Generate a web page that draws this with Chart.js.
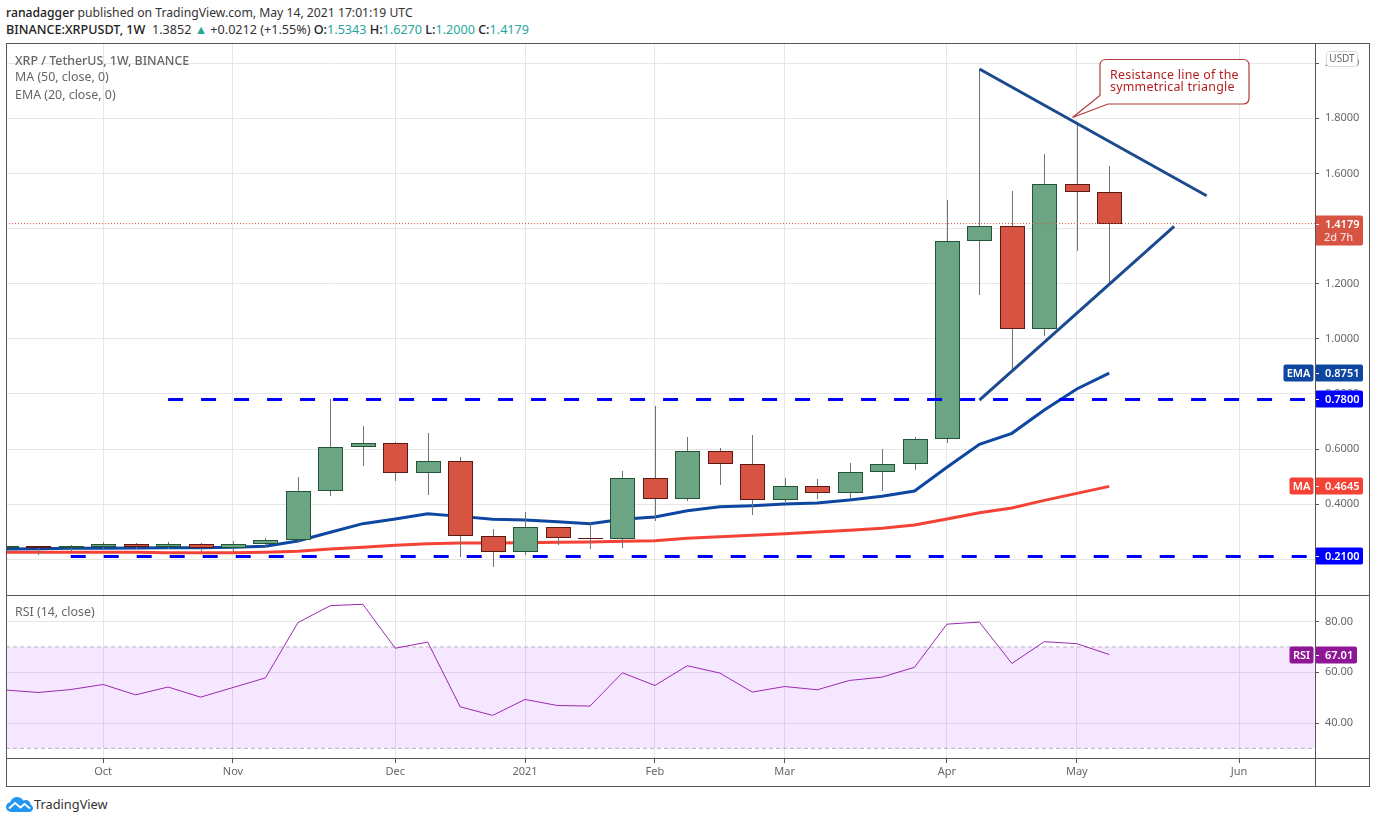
<!DOCTYPE html>
<html>
<head>
<meta charset="utf-8">
<title>XRP / TetherUS</title>
<script src="https://cdn.jsdelivr.net/npm/chart.js@4/dist/chart.umd.min.js"></script>
<style>
  html, body { margin: 0; padding: 0; background: #fff; overflow: hidden; }
  body { width: 1376px; height: 823px; position: relative; font-family: "Noto Sans", sans-serif; }
  canvas { position: absolute; left: 0; }
  #main-chart { top: 43px; }
  #rsi-chart { top: 595px; }
  .txt { position: absolute; white-space: nowrap; line-height: 16px; }
  .head { font-size: 12.6px; color: #333; left: 6px; }
  .head b { font-weight: 500; color: #222; }
  .teal { color: #26a69a; }
  .leg { font-size: 12.4px; color: #666; left: 15px; }
  .frame { position: absolute; background: #555; }
  #callout { position: absolute; left: 1060px; top: 50px; }
  .note { font-size: 12.4px; color: #b71c1c; left: 1110px; line-height: 12px; letter-spacing: 0.25px; }
</style>
</head>
<body>
<div class="txt head" style="top:5px;font-size:12.2px"><b>ranadagger</b> published on TradingView.com, May 14, 2021 17:01:19 UTC</div>
<div class="txt head" style="top:22px"><b>BINANCE:XRPUSDT, 1W</b>&nbsp; 1.3852 <span class="teal">▲</span> +0.0212 (+1.55%) <b>O:</b><span class="teal">1.5343</span> <b>H:</b><span class="teal">1.6270</span> <b>L:</b><span class="teal">1.2000</span> <b>C:</b><span class="teal">1.4179</span></div>

<canvas id="main-chart" width="1376" height="552" style="width:1376px;height:552px"></canvas>
<canvas id="rsi-chart" width="1376" height="191" style="width:1376px;height:191px"></canvas>

<!-- pane borders -->
<div class="frame" style="left:6px;top:43px;width:1363px;height:1px"></div>
<div class="frame" style="left:6px;top:595px;width:1363px;height:1px"></div>
<div class="frame" style="left:6px;top:758px;width:1363px;height:1px"></div>
<div class="frame" style="left:6px;top:786px;width:1363px;height:1px"></div>
<div class="frame" style="left:6px;top:43px;width:1px;height:744px"></div>
<div class="frame" style="left:1315px;top:43px;width:1px;height:744px"></div>
<div class="frame" style="left:1369px;top:43px;width:1px;height:744px"></div>

<div class="txt leg" style="top:53px;font-weight:500">XRP / TetherUS, 1W, BINANCE</div>
<div class="txt leg" style="top:69px">MA (50, close, 0)</div>
<div class="txt leg" style="top:87px">EMA (20, close, 0)</div>
<div class="txt leg" style="top:604px">RSI (14, close)</div>

<svg id="callout" width="200" height="75" viewBox="1060 50 200 75">
  <path d="M1106 59.5 H1243 Q1249 59.5 1249 65.5 V98 Q1249 104 1243 104 H1108 L1072.5 117.5 L1100 95.5 V65.5 Q1100 59.5 1106 59.5 Z" fill="#fff" stroke="#b23a3a" stroke-width="1.2"/>
</svg>
<div class="txt note" style="top:69px">Resistance line of the</div>
<div class="txt note" style="top:81px">symmetrical triangle</div>

<svg style="position:absolute;left:6px;top:797px" width="27" height="15" viewBox="0 0 27 15">
  <path d="M6 15 C2 15 0 12.5 0 10 C0 7.5 1.8 5.6 4.2 5.3 C5.2 2 8 0 11 0 C13.8 0 16 1.4 17.2 3.6 C18 3.2 18.8 3 19.8 3 C22.6 3 24.4 5 24.6 7.4 C26 8.2 27 9.6 27 11.2 C27 13.4 25.2 15 23 15 Z" fill="#2196f3"/>
  <path d="M3 11.5 L9 6 L14.5 10.5 L18.5 7 L24 11.5" fill="none" stroke="#fff" stroke-width="1.8"/>
</svg>
<div class="txt" style="left:34px;top:796px;font-size:12.8px;color:#333">TradingView</div>

<script>
// weekly candles, index = week number from the left edge
const opens  = [0.2397, 0.2470, 0.2419, 0.2458, 0.2541, 0.2434, 0.2541, 0.2397, 0.2541, 0.2687, 0.4464, 0.6062, 0.6207, 0.5118, 0.5552, 0.2832, 0.2251, 0.3158, 0.2759, 0.2723, 0.4937, 0.4175, 0.5916, 0.5444, 0.4138, 0.4646, 0.4393, 0.5154, 0.5444, 0.6363, 1.3536, 1.4080, 1.0343, 1.5604, 1.5343];
const closes = [0.2469, 0.2419, 0.2464, 0.2541, 0.2434, 0.2541, 0.2397, 0.2541, 0.2687, 0.4464, 0.6062, 0.6207, 0.5118, 0.5552, 0.2832, 0.2251, 0.3158, 0.2759, 0.2723, 0.4937, 0.4175, 0.5916, 0.5444, 0.4138, 0.4646, 0.4393, 0.5154, 0.5444, 0.6352, 1.3536, 1.4080, 1.0343, 1.5604, 1.5338, 1.4179];
const highs  = [0.2534, 0.2484, 0.2518, 0.2614, 0.2590, 0.2614, 0.2590, 0.2663, 0.2759, 0.4985, 0.7815, 0.6836, 0.6243, 0.6582, 0.5710, 0.3098, 0.3712, 0.3158, 0.3327, 0.5203, 0.7562, 0.6436, 0.6037, 0.6509, 0.4948, 0.4913, 0.5493, 0.6001, 0.6436, 1.5035, 1.9788, 1.5361, 1.6704, 1.7800, 1.6270];
const lows   = [0.2334, 0.2165, 0.2300, 0.2358, 0.2358, 0.2358, 0.2263, 0.2263, 0.2420, 0.2602, 0.4307, 0.5396, 0.4851, 0.4346, 0.2094, 0.1731, 0.2166, 0.2529, 0.2385, 0.2420, 0.3400, 0.4127, 0.4707, 0.3618, 0.4078, 0.4199, 0.4199, 0.4489, 0.5250, 0.6218, 1.1588, 0.8867, 1.0100, 1.3196, 1.2000];

const emaValues = [0.2372, 0.2384, 0.2397, 0.2397, 0.2409, 0.2420, 0.2420, 0.2433, 0.2469, 0.2663, 0.2978, 0.3292, 0.3459, 0.3652, 0.3556, 0.3449, 0.3424, 0.3365, 0.3292, 0.3449, 0.3534, 0.3763, 0.3907, 0.3943, 0.4004, 0.4041, 0.4149, 0.4283, 0.4476, 0.5336, 0.6170, 0.6569, 0.7416, 0.8177, 0.8751];
const maValues  = [0.2251, 0.2251, 0.2251, 0.2251, 0.2251, 0.2239, 0.2239, 0.2239, 0.2251, 0.2288, 0.2372, 0.2432, 0.2505, 0.2565, 0.2590, 0.2590, 0.2602, 0.2614, 0.2626, 0.2650, 0.2675, 0.2759, 0.2820, 0.2867, 0.2928, 0.2989, 0.3049, 0.3122, 0.3241, 0.3458, 0.3688, 0.3857, 0.4137, 0.4391, 0.4645];
const rsiValues = [53.0, 52.05, 53.2, 55.2, 51.1, 54.2, 50.2, 54.0, 57.8, 79.6, 86.3, 86.85, 69.5, 71.9, 46.4, 43.0, 49.3, 46.9, 46.7, 59.8, 54.8, 62.6, 59.7, 52.2, 54.4, 53.1, 56.8, 58.1, 62.0, 79.0, 79.8, 63.5, 72.1, 71.3, 67.01];

const priceTicks = [0.2, 0.4, 0.6, 0.8, 1.0, 1.2, 1.4, 1.6, 1.8, 2.0];
const rsiTicks = [40, 60, 80];
const monthWeeks = [3, 7, 12, 16, 20, 24, 29, 33, 38];
const monthLabels = ['Oct', 'Nov', 'Dec', '2021', 'Feb', 'Mar', 'Apr', 'May', 'Jun'];

// drawn lines, as [week, price]
const resistanceLine = [[30, 1.979], [37, 1.5191]];
const supportLine = [[30, 0.7778], [36, 1.4082]];
const upperLevel = [[5, 0.78], [40.03, 0.78]];
const lowerLevel = [[2, 0.21], [40.09, 0.21]];
const lastPrice = 1.4179;
const lastEma = 0.8751;
const lastMa = 0.4645;
const lastRsi = 67.01;

const X_MIN = 0.006, X_MAX = 40.34;
const GRID = '#e6e6e6', AXIS = '#555', TICK_TEXT = '#666';
const FONT = { family: '"Noto Sans", sans-serif', size: 11 };
const toPts = a => a.map(p => ({ x: p[0], y: p[1] }));
const series = a => a.map((v, i) => ({ x: i, y: v }));
const isUp = i => closes[i] >= opens[i];

// tick labels must not push the pane edges in
function noPadding(s) {
  s.paddingTop = s.paddingBottom = s.paddingLeft = s.paddingRight = 0;
}

function xAxis(showLabels) {
  return {
    type: 'linear', min: X_MIN, max: X_MAX, offset: false,
    afterBuildTicks: s => { s.ticks = monthWeeks.map(v => ({ value: v })); },
    afterFit: s => { s.height = showLabels ? 28 : 0; noPadding(s); },
    grid: { color: GRID, offset: false, drawTicks: showLabels, tickLength: 5, tickColor: AXIS },
    border: { display: false },
    ticks: {
      display: showLabels, autoSkip: false, maxRotation: 0, padding: 2, color: TICK_TEXT, font: FONT,
      callback: v => monthLabels[monthWeeks.indexOf(v)]
    }
  };
}

function yAxis(min, max, ticks, digits) {
  return {
    type: 'linear', position: 'right', min, max,
    afterBuildTicks: s => { s.ticks = ticks.map(v => ({ value: v })); },
    afterFit: s => { s.width = 54; noPadding(s); },
    grid: { color: GRID, tickLength: 4, tickColor: AXIS },
    border: { display: false },
    ticks: { autoSkip: false, padding: 6, color: TICK_TEXT, font: FONT, callback: v => v.toFixed(digits) }
  };
}

function roundRect(ctx, x, y, w, h, color) {
  ctx.fillStyle = color;
  ctx.beginPath();
  ctx.roundRect(x, y, w, h, 2);
  ctx.fill();
}

// value pill on the price axis, with an optional name tag to its left
function pill(chart, value, text, color, tag, tagWidth, width, sub) {
  const ctx = chart.ctx;
  const y = Math.round(chart.scales.y.getPixelForValue(value));
  const right = chart.scales.y.left;
  ctx.save();
  roundRect(ctx, right, y - 8.5, width, sub ? 30 : 17, color);
  ctx.strokeStyle = '#fff';
  ctx.beginPath(); ctx.moveTo(right, y + 0.5); ctx.lineTo(right + 4, y + 0.5); ctx.stroke();
  ctx.font = '600 11px "Noto Sans", sans-serif';
  ctx.textBaseline = 'middle';
  ctx.fillStyle = '#fff';
  ctx.fillText(text, right + 10, y + 0.5);
  if (sub) {
    ctx.font = '500 11px "Noto Sans", sans-serif';
    ctx.fillStyle = 'rgba(255,255,255,0.8)';
    ctx.fillText(sub, right + 9, y + 13.5);
  }
  if (tag) {
    roundRect(ctx, right - tagWidth - 1.5, y - 8.5, tagWidth, 17, color);
    ctx.font = '600 11px "Noto Sans", sans-serif';
    ctx.fillStyle = '#fff';
    ctx.textAlign = 'center';
    ctx.fillText(tag, right - 1.5 - tagWidth / 2, y + 0.5);
  }
  ctx.restore();
}

// snap candle rectangles to whole pixels so they stay crisp
const snapBars = {
  id: 'snapBars',
  afterDatasetsUpdate(chart) {
    chart.getSortedVisibleDatasetMetas().forEach(meta => {
      if (meta.type !== 'bar') return;
      meta.data.forEach(el => {
        el.x = Math.round(el.x) + 0.5;
        el.y = Math.round(el.y);
        el.base = Math.round(el.base);
      });
    });
  }
};

const priceLabels = {
  id: 'priceLabels',
  afterDraw(chart) {
    const ctx = chart.ctx;
    pill(chart, lastEma, lastEma.toFixed(4), '#0d47a1', 'EMA', 30, 48);
    pill(chart, upperLevel[0][1], upperLevel[0][1].toFixed(4), '#0000ff', null, 0, 48);
    pill(chart, lastMa, lastMa.toFixed(4), '#f44336', 'MA', 24, 48);
    pill(chart, lowerLevel[0][1], lowerLevel[0][1].toFixed(4), '#0000ff', null, 0, 48);
    pill(chart, lastPrice, lastPrice.toFixed(4), '#d75442', null, 0, 48, '2d 7h');
    // currency badge
    ctx.save();
    ctx.fillStyle = '#fff';
    ctx.strokeStyle = '#d6d8e0';
    ctx.beginPath();
    ctx.roundRect(1326.5, 8.5, 31, 15, 3);
    ctx.fill();
    ctx.stroke();
    ctx.fillStyle = TICK_TEXT;
    ctx.font = '10px "Noto Sans", sans-serif';
    ctx.textAlign = 'center';
    ctx.textBaseline = 'middle';
    ctx.fillText('USDT', 1342, 16);
    ctx.restore();
  }
};

const rsiLabels = {
  id: 'rsiLabels',
  afterDraw(chart) {
    pill(chart, lastRsi, lastRsi.toFixed(2), '#8f1695', 'RSI', 24, 42);
  }
};

new Chart(document.getElementById('main-chart'), {
  type: 'bar',
  plugins: [snapBars, priceLabels],
  data: {
    datasets: [
      { type: 'line', data: toPts(resistanceLine), borderColor: '#1c4a8f', borderWidth: 3, pointRadius: 0, order: 0 },
      { type: 'line', data: toPts(supportLine), borderColor: '#1c4a8f', borderWidth: 3, pointRadius: 0, order: 0 },
      { type: 'line', data: toPts(upperLevel), borderColor: '#0000ff', borderWidth: 3, borderDash: [15, 18], pointRadius: 0, order: 1 },
      { type: 'line', data: toPts(lowerLevel), borderColor: '#0000ff', borderWidth: 3, borderDash: [15, 18], pointRadius: 0, order: 1 },
      { type: 'line', data: [{ x: X_MIN, y: lastPrice }, { x: X_MAX, y: lastPrice }], borderColor: '#d75442', borderWidth: 1, borderDash: [1, 2], pointRadius: 0, order: 1 },
      {
        data: opens.map((v, i) => ({ x: i, y: [v, closes[i]] })),
        grouped: false, barThickness: 25, borderWidth: 1, borderSkipped: false, inflateAmount: 0, order: 2,
        backgroundColor: opens.map((v, i) => isUp(i) ? '#6ba583' : '#d75442'),
        borderColor: opens.map((v, i) => isUp(i) ? '#225437' : '#5b1a13')
      },
      {
        data: lows.map((v, i) => ({ x: i, y: [v, highs[i]] })),
        grouped: false, barThickness: 1, inflateAmount: 0, backgroundColor: '#737375', order: 3
      },
      { type: 'line', data: series(emaValues), borderColor: '#0d47a1', borderWidth: 3, pointRadius: 0, order: 4 },
      { type: 'line', data: series(maValues), borderColor: '#f44336', borderWidth: 3, pointRadius: 0, order: 5 }
    ]
  },
  options: {
    responsive: false, animation: false, events: [],
    layout: { autoPadding: false, padding: { left: 6, right: 7, top: 0, bottom: 0 } },
    plugins: { legend: { display: false }, tooltip: { enabled: false } },
    scales: { x: xAxis(false), y: yAxis(0.0703, 2.0732, priceTicks, 4) }
  }
});

new Chart(document.getElementById('rsi-chart'), {
  type: 'line',
  plugins: [rsiLabels],
  data: {
    datasets: [
      { data: series(rsiValues), borderColor: '#9c27b0', borderWidth: 1, pointRadius: 0, order: 0 },
      {
        data: [{ x: X_MIN, y: 70 }, { x: X_MAX, y: 70 }], borderColor: '#b9b2bd', borderWidth: 1, borderDash: [4, 3],
        pointRadius: 0, fill: { value: 30 }, backgroundColor: 'rgba(153,21,255,0.1)', order: 1
      },
      { data: [{ x: X_MIN, y: 30 }, { x: X_MAX, y: 30 }], borderColor: '#b9b2bd', borderWidth: 1, borderDash: [4, 3], pointRadius: 0, order: 1 }
    ]
  },
  options: {
    responsive: false, animation: false, events: [],
    layout: { autoPadding: false, padding: { left: 6, right: 7, top: 0, bottom: 0 } },
    plugins: { legend: { display: false }, tooltip: { enabled: false } },
    scales: { x: xAxis(true), y: yAxis(26.2, 90.5, rsiTicks, 2) }
  }
});
</script>
</body>
</html>
